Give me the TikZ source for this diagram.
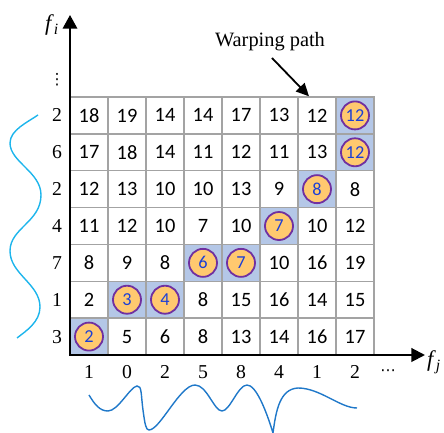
\documentclass[tikz,border=0pt]{standalone}
\usepackage{fontspec}
\setmainfont{Liberation Serif}
\newfontfamily\cellfont{Carlito}
\newfontfamily\symfont{DejaVu Sans}
\usetikzlibrary{arrows.meta}
\definecolor{pathblue}{HTML}{B4C7E7}
\definecolor{dotorange}{HTML}{FFC96F}
\definecolor{dotpurple}{HTML}{7030A0}
\definecolor{numblue}{HTML}{1C3FD6}
\definecolor{wavecyan}{HTML}{1DB5EC}
\definecolor{waveblue}{HTML}{1F78C9}
\definecolor{gridgray}{HTML}{A3A3A3}

\begin{document}
\begin{tikzpicture}[
			x=0.25mm, y=-0.25mm,
			%% Node styles
			cell/.style={rectangle, draw=gridgray, line width=0.35mm,
				minimum width=9.5mm, minimum height=9.215mm, inner sep=0pt,
				font=\cellfont\fontsize{14.5}{17}\selectfont},
			pathcell/.style={cell, fill=pathblue},
			dot/.style={circle, draw=dotpurple, line width=0.45mm, fill=dotorange,
				minimum size=7mm, inner sep=0pt, text=numblue,
				font=\cellfont\fontsize{13}{15}\selectfont},
			tick/.style={font=\fontsize{14}{16}\selectfont, inner sep=0pt},
			more/.style={font=\symfont\fontsize{11}{13}\selectfont, inner sep=0pt},
			%% Arrow styles
			axis/.style={{Triangle[length=3.4mm,width=3.6mm]}-{Triangle[length=3.4mm,width=3.4mm]},
				line width=0.5mm},
			pointer/.style={-{Triangle[length=3.2mm,width=3mm]}, line width=0.45mm},
			wave/.style={line width=0.35mm},
			]
			\useasboundingbox (0,0) rectangle (444,433);
			
			%% ── Cost matrix (rows listed top to bottom) ──────────────────────
			\foreach \vals [count=\r from 0] in {
				{18,19,14,14,17,13,12,{}},
				{17,18,14,11,12,11,13,{}},
				{12,13,10,10,13,9,{},8},
				{11,12,10,7,10,{},10,12},
				{8,9,8,{},{},10,16,19},
				{2,{},{},8,15,16,14,15},
				{{},5,6,8,13,14,16,17}}
			{
				\foreach \v [count=\c from 0] in \vals
				\node[cell] (c-\c-\r) at ({89+38*\c},{97+36.86*(\r+0.5)}) {\v};
			}
			
			%% ── Warping path ─────────────────────────────────────────────────
			\foreach \c/\r/\v in {0/6/2, 1/5/3, 2/5/4, 3/4/6, 4/4/7,
				5/3/7, 6/2/8, 7/1/12, 7/0/12}
			{
				\node[pathcell] (p-\c-\r) at (c-\c-\r) {};
				\node[dot] (d-\c-\r) at (p-\c-\r) {\v};
			}
			
			%% ── Axes ─────────────────────────────────────────────────────────
			\coordinate (orig) at (70,355);
			\coordinate (ytip) at (70,15);
			\coordinate (xtip) at (425,355);
			\draw[axis] (ytip) -- (orig) -- (xtip);
			\node[font=\fontsize{16}{18}\selectfont] (fi) at (52,25)
			{\textit{f}\textsubscript{\textit{i}}};
			\node[font=\fontsize{16}{18}\selectfont] (fj) at (434,362)
			{\textit{f}\textsubscript{\textit{j}}};
			
			%% Row and column values
			\foreach \v [count=\r from 0] in {2,6,2,4,7,1,3}
			\node[tick] (ri-\r) at (57,{97+36.86*(\r+0.5)}) {\v};
			\node[more] (rdots) at (57,80) {⋮};
			\foreach \v [count=\c from 0] in {1,0,2,5,8,4,1,2}
			\node[tick, anchor=base] (cj-\c) at ({89+38*\c},379) {\v};
			\node[more] (cdots) at (388,373) {⋯};
			
			%% Label + pointer
			\node[font=\fontsize{14.5}{17}\selectfont] (wp) at (270,42) {Warping path};
			\coordinate (wptail) at (272,58);
			\draw[pointer] (wptail) -- ([xshift=-2mm]c-6-0.north);
			
			%% ── Signals ──────────────────────────────────────────────────────
			\draw[wave, wavecyan]
			(38,115) .. controls (28,122) and (10,130) .. (10,143)
			.. controls (10,162) and (41,172) .. (41,195)
			.. controls (41,222) and (10,228) .. (10,251)
			.. controls (10,274) and (40,284) .. (40,307)
			.. controls (40,322) and (26,331) .. (17,338);
			
			\draw[wave, waveblue]
			(89,395) .. controls (95,405) and (100,411) .. (108,411)
			.. controls (118,411) and (130,387) .. (137,386)
			.. controls (142,385) and (141,396) .. (143,410)
			.. controls (145,425) and (146,430) .. (149,430)
			.. controls (160,430) and (180,385) .. (195,385)
			.. controls (207,385) and (214,411) .. (222,411)
			.. controls (230,411) and (238,385) .. (247,385)
			.. controls (256,385) and (266,410) .. (273,433)
			.. controls (276,410) and (280,389) .. (298,388)
			.. controls (320,388) and (340,408) .. (357,408);
			
		\end{tikzpicture}
\end{document}
